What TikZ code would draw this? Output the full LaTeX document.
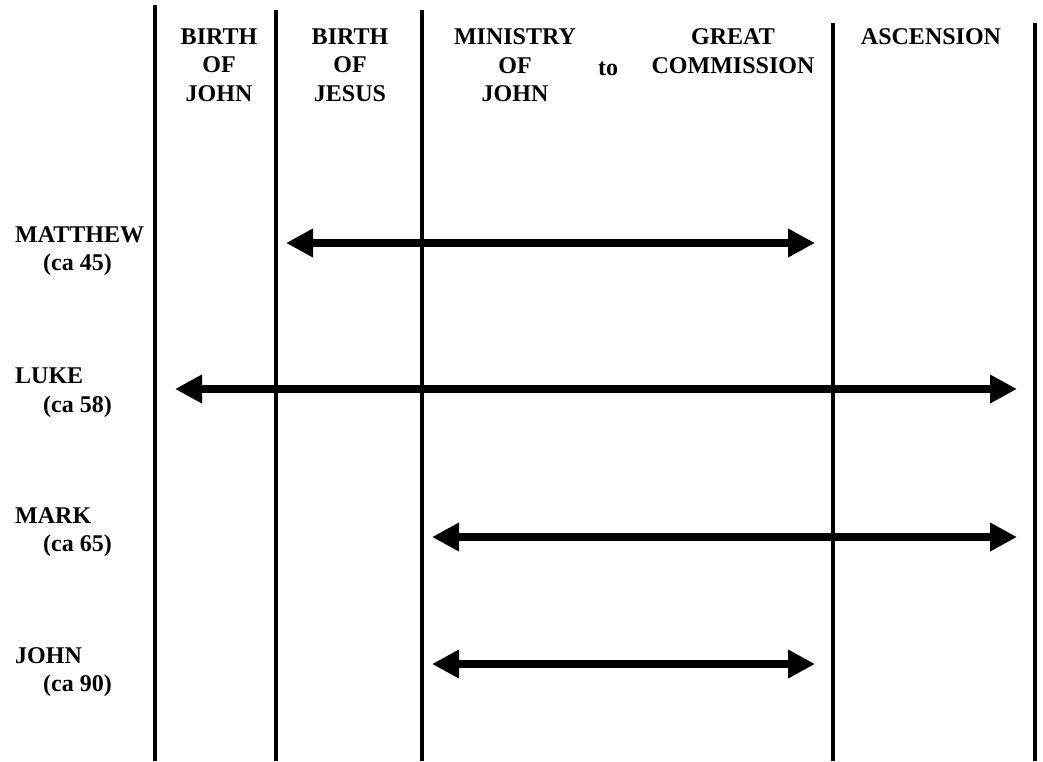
\documentclass[tikz,border=0pt]{standalone}
\usepackage{fontspec}
\setmainfont{Liberation Serif}
\usepackage{tikz}
\usetikzlibrary{arrows.meta,positioning}

\begin{document}
\begin{tikzpicture}[x=1pt, y=-1pt, font=\fontsize{24}{28.5}\selectfont\bfseries, >={Triangle[length=27pt,width=27pt]}]
\tikzstyle{colhead}=[anchor=north, inner sep=0pt, align=center]
\tikzstyle{gospel}=[anchor=north west, inner sep=0pt, align=left]
\tikzstyle{divider}=[line width=3.5pt]
\tikzstyle{reach}=[<->, line width=8.5pt]
\useasboundingbox (0,0) rectangle (1043,761);
% column dividers
\draw[divider] (155,5) -- (155,761);
\draw[divider] (276,10) -- (276,761);
\draw[divider] (422,10) -- (422,761);
\draw[divider] (833,23) -- (833,761);
\draw[divider] (1035,23) -- (1035,761);
% column heads
\node[colhead] (bjohn) at (219,28.5) {BIRTH\\OF\\JOHN};
\node[colhead] (bjesus) at (350,28.5) {BIRTH\\OF\\JESUS};
\node[colhead] (ministry) at (515,28.5) {MINISTRY\\OF\\JOHN};
\node[anchor=base, inner sep=0pt] (to) at (608,75) {to};
\node[colhead] (commission) at (733,28.5) {GREAT\\COMMISSION};
\node[colhead] (ascension) at (931,28.5) {ASCENSION};
% gospels
\node[gospel] (matthew) at (15,226) {MATTHEW\\\hspace*{28pt}(ca 45)};
\node[gospel] (luke) at (15,368) {LUKE\\\hspace*{28pt}(ca 58)};
\node[gospel] (mark) at (15,507) {MARK\\\hspace*{28pt}(ca 65)};
\node[gospel] (john) at (15,647) {JOHN\\\hspace*{28pt}(ca 90)};
% what each one covers
\coordinate (mt-l) at (286,243);
\coordinate (mt-r) at (815,243);
\coordinate (lk-l) at (175,389);
\coordinate (lk-r) at (1017,389);
\coordinate (mk-l) at (432,537);
\coordinate (mk-r) at (1017,537);
\coordinate (jn-l) at (432,664);
\coordinate (jn-r) at (815,664);
\draw[reach] (mt-l) -- (mt-r);
\draw[reach] (lk-l) -- (lk-r);
\draw[reach] (mk-l) -- (mk-r);
\draw[reach] (jn-l) -- (jn-r);
\end{tikzpicture}
\end{document}
